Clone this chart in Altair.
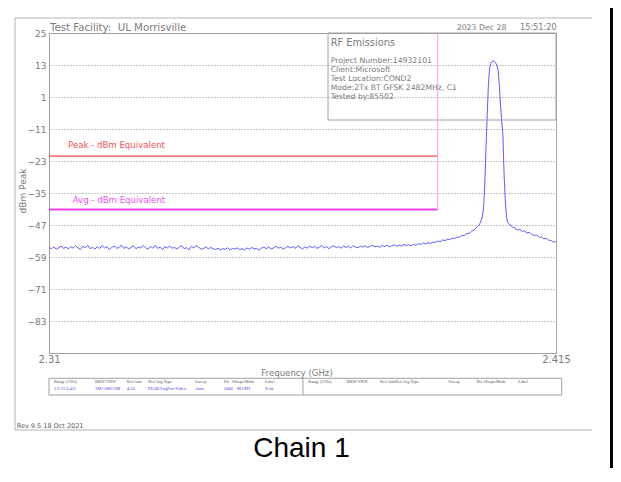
import altair as alt
import pandas as pd

# ---------------- data ----------------
floor_mhz = [
    2310.0, 2310.5, 2311.0, 2311.5, 2312.0, 2312.5, 2313.0, 2313.5, 2314.0, 2314.5,
    2315.0, 2315.5, 2316.0, 2316.5, 2317.0, 2317.5, 2318.0, 2318.5, 2319.0, 2319.5,
    2320.0, 2320.5, 2321.0, 2321.5, 2322.0, 2322.5, 2323.0, 2323.5, 2324.0, 2324.5,
    2325.0, 2325.5, 2326.0, 2326.5, 2327.0, 2327.5, 2328.0, 2328.5, 2329.0, 2329.5,
    2330.0, 2330.5, 2331.0, 2331.5, 2332.0, 2332.5, 2333.0, 2333.5, 2334.0, 2334.5,
    2335.0, 2335.5, 2336.0, 2336.5, 2337.0, 2337.5, 2338.0, 2338.5, 2339.0, 2339.5,
    2340.0, 2340.5, 2341.0, 2341.5, 2342.0, 2342.5, 2343.0, 2343.5, 2344.0, 2344.5,
    2345.0, 2345.5, 2346.0, 2346.5, 2347.0, 2347.5, 2348.0, 2348.5, 2349.0, 2349.5,
    2350.0, 2350.5, 2351.0, 2351.5, 2352.0, 2352.5, 2353.0, 2353.5, 2354.0, 2354.5,
    2355.0, 2355.5, 2356.0, 2356.5, 2357.0, 2357.5, 2358.0, 2358.5, 2359.0, 2359.5,
    2360.0, 2360.5, 2361.0, 2361.5, 2362.0, 2362.5, 2363.0, 2363.5, 2364.0, 2364.5,
    2365.0, 2365.5, 2366.0, 2366.5, 2367.0, 2367.5, 2368.0, 2368.5, 2369.0, 2369.5,
    2370.0, 2370.5, 2371.0, 2371.5, 2372.0, 2372.5, 2373.0, 2373.5, 2374.0, 2374.5,
    2375.0, 2375.5, 2376.0, 2376.5, 2377.0, 2377.5, 2378.0, 2378.5, 2379.0, 2379.5,
    2380.0, 2380.5, 2381.0, 2381.5, 2382.0, 2382.5, 2383.0, 2383.5, 2384.0, 2384.5,
    2385.0, 2385.5, 2386.0, 2386.5, 2387.0, 2387.5, 2388.0, 2388.5, 2389.0, 2389.5,
    2390.0, 2390.5, 2391.0, 2391.5, 2392.0, 2392.5, 2393.0, 2393.5, 2394.0, 2394.5,
    2395.0, 2395.5, 2396.0, 2396.5, 2397.0, 2397.5, 2398.0, 2398.5, 2399.0,
]
floor_dbm = [
    -55.4, -55.9, -55.2, -56.1, -55.5, -54.9, -55.8, -55.3, -56.0, -55.1,
    -55.7, -54.8, -55.6, -56.2, -55.0, -55.5, -54.6, -55.9, -55.3, -56.0,
    -55.2, -55.8, -54.7, -55.6, -55.1, -56.3, -55.4, -54.9, -55.7, -55.5,
    -54.5, -55.8, -55.2, -56.0, -55.4, -54.8, -55.9, -55.3, -55.6, -54.7,
    -55.5, -56.1, -55.0, -55.7, -54.6, -55.8, -55.3, -56.2, -55.1, -55.6,
    -54.9, -55.7, -55.4, -56.0, -55.2, -54.8, -55.9, -55.5, -56.3, -55.0,
    -55.6, -54.7, -55.3, -56.1, -55.8, -55.2, -56.0, -55.4, -55.9, -56.2,
    -55.7, -56.3, -55.9, -56.1, -55.5, -56.4, -55.8, -56.0, -55.6, -56.2,
    -55.9, -56.3, -55.6, -56.1, -55.4, -56.0, -55.8, -56.4, -55.7, -55.3,
    -55.9, -55.2, -56.0, -55.6, -54.9, -55.7, -55.3, -56.1, -55.5, -55.0,
    -55.6, -55.1, -55.8, -54.8, -55.4, -56.0, -55.2, -55.7, -54.9, -55.5,
    -55.0, -55.8, -55.3, -54.7, -55.6, -55.1, -55.9, -55.2, -54.8, -55.5,
    -55.1, -55.7, -54.9, -55.4, -55.0, -55.6, -54.7, -55.3, -55.5, -54.9,
    -55.3, -54.8, -55.5, -55.0, -54.6, -55.2, -54.9, -55.4, -54.7, -55.1,
    -54.6, -55.2, -54.8, -54.4, -55.0, -54.5, -54.9, -54.3, -54.7, -54.4,
    -54.8, -54.2, -54.6, -54.0, -54.3, -53.7, -54.1, -53.6, -53.9, -53.4,
    -53.5, -53.0, -53.3, -52.6, -52.9, -52.3, -52.5, -51.9, -52.1, -51.5,
    -51.6, -50.9, -51.0, -50.3, -50.2, -49.4, -48.9, -48.0, -47.2,
]
peak_mhz = [
    2399.25, 2399.5, 2399.75, 2400.0, 2400.25, 2400.5, 2400.75, 2401.0,
    2401.25, 2401.5, 2401.75, 2402.0, 2402.25, 2402.5, 2402.75, 2403.0,
    2403.25, 2403.5, 2403.75, 2404.0, 2404.25, 2404.5, 2404.75, 2405.0,
]
peak_dbm = [
    -46.4, -45.3, -44.0, -40.5, -32.0, -18.0, -6.0, 5.5,
    11.8, 13.6, 14.3, 14.5, 14.3, 13.8, 12.9, 11.2,
    6.0, -2.0, -8.0, -13.0, -28.0, -38.0, -44.0, -46.0,
]
tail_mhz = [
    2405.5, 2406.0, 2406.5, 2407.0, 2407.5, 2408.0, 2408.5, 2409.0, 2409.5, 2410.0,
    2410.5, 2411.0, 2411.5, 2412.0, 2412.5, 2413.0, 2413.5, 2414.0, 2414.5, 2415.0,
]
tail_dbm = [
    -47.0, -47.8, -48.1, -48.9, -48.6, -49.4, -49.2, -50.0, -49.7, -50.6,
    -50.9, -50.7, -51.6, -51.5, -52.2, -52.0, -52.7, -52.8, -53.4, -53.2,
]

y_ticks = [25, 13, 1, -11, -23, -35, -47, -59, -71, -83]
y_domain = [-95, 25]
x_ticks = [2.31, 2.415]
x_domain = [2.31, 2.415]

peak_limit_dbm = -21.2
avg_limit_dbm = -41.2
limit_start_ghz = 2.31
limit_end_ghz = 2.3905

title_left = "Test Facility:\u00a0 UL Morrisville"
title_date = "2023 Dec 28"
title_time = "15:51:20"
info_title = "RF Emissions"
info_lines = [
    "Project Number:14932101",
    "Client:Microsoft",
    "Test Location:COND2",
    "Mode:2Tx BT GFSK 2482MHz, C1",
    "Tested by:85502",
]
peak_label = "Peak - dBm Equivalent"
avg_label = "Avg - dBm Equivalent"
y_title = "dBm Peak"
x_title = "Frequency (GHz)"
table_headers = ["Range (GHz)", "RBW/VBW", "Ref/Attn", "Det/Avg Type", "Sweep", "Pts", "#Swps/Mode", "Label"]
table_values = ["1:2.31-2.415", "1M/-3dB1/3M", "4/14", "PEAK/LogPwr-Video", "Auto", "2000", "MAXH", "Peak"]
rev_text = "Rev 9.5 18 Oct 2021"
caption = "Chain 1"

# ---------------- build ----------------
W, H = 507, 320
FONT = "DejaVu Sans"
GRAY_TXT = "#7a7a7a"

trace = pd.DataFrame({
    "ghz": [m / 1000 for m in floor_mhz + peak_mhz + tail_mhz],
    "dbm": floor_dbm + peak_dbm + tail_dbm,
})
limits = pd.DataFrame({
    "ghz": [limit_start_ghz, limit_start_ghz],
    "ghz2": [limit_end_ghz, limit_end_ghz],
    "dbm": [peak_limit_dbm, avg_limit_dbm],
    "kind": ["peak", "avg"],
})
edge = pd.DataFrame({"ghz": [limit_end_ghz], "dbm": [avg_limit_dbm], "dbm2": [y_domain[1]]})
one = pd.DataFrame({"k": [0]})

x_enc = alt.X("ghz:Q", scale=alt.Scale(domain=x_domain, nice=False, zero=False),
              axis=alt.Axis(values=x_ticks, format=".4~g", grid=False, ticks=False, title=None,
                            labelPadding=1, labelFontSize=10, labelColor=GRAY_TXT, labelFont=FONT,
                            labelFlush=False, labelOverlap=False, domainColor="#a0a0a0"))
y_enc = alt.Y("dbm:Q", scale=alt.Scale(domain=y_domain, nice=False, zero=False),
              axis=alt.Axis(values=y_ticks, grid=True, gridDash=[1, 2], gridColor="#8a8a8a",
                            gridWidth=1, ticks=False, title=None, labelPadding=3, labelFontSize=9,
                            labelColor=GRAY_TXT, labelFont=FONT, labelOverlap=False,
                            domainColor="#a0a0a0"))


def txt(s, x, y, size, color=GRAY_TXT, align="left", baseline="middle", font=FONT, angle=0):
    kw = dict(text=s, fontSize=size, color=color, align=align, baseline=baseline, font=font)
    if angle:
        kw["angle"] = angle
    return alt.Chart(one).mark_text(**kw).encode(x=alt.value(x), y=alt.value(y))


def hline(x1, x2, y, color, width=1):
    return alt.Chart(one).mark_rule(color=color, strokeWidth=width).encode(
        x=alt.value(x1), x2=alt.value(x2), y=alt.value(y))


def vline(x, y1, y2, color, width=1):
    return alt.Chart(one).mark_rule(color=color, strokeWidth=width).encode(
        x=alt.value(x), y=alt.value(y1), y2=alt.value(y2))


def box(x1, x2, y1, y2, color, width=1):
    return alt.Chart(one).mark_rect(fillOpacity=0, stroke=color, strokeWidth=width).encode(
        x=alt.value(x1), x2=alt.value(x2), y=alt.value(y1), y2=alt.value(y2))


layers = []
# document frame
FR = "#b4b4b4"
layers += [vline(-34, -15, 397, FR), hline(-34, 543, -15, FR), hline(-34, 543, 397, FR)]
layers.append(alt.Chart(one).mark_rect(color="#000000").encode(
    x=alt.value(561), x2=alt.value(564), y=alt.value(-40), y2=alt.value(460)))

# trace (carries the axes)
layers.append(alt.Chart(trace).mark_line(color="#5c5cff", strokeWidth=1).encode(x=x_enc, y=y_enc))

# info box
layers.append(box(279, 507, 0, 87, "#a0a0a0"))

# limit lines
layers.append(alt.Chart(limits[limits.kind == "peak"]).mark_rule(color="#ff4a4a", strokeWidth=1.3).encode(
    x=x_enc, x2="ghz2", y=y_enc))
layers.append(alt.Chart(limits[limits.kind == "avg"]).mark_rule(color="#f040f0", strokeWidth=2).encode(
    x=x_enc, x2="ghz2", y=y_enc))
layers.append(alt.Chart(edge).mark_rule(color="#ff9cff", strokeWidth=1).encode(
    x=x_enc, y=y_enc, y2="dbm2"))

# texts
layers.append(txt(title_left, 1, -5.5, 10.2))
layers.append(txt(title_date, 407.7, -5.5, 7.8))
layers.append(txt(title_time, 507.7, -5.5, 8.2, align="right"))
layers.append(txt(info_title, 281.7, 10.3, 9.8))
for i, line in enumerate(info_lines):
    layers.append(txt(line, 281.7, 28 + 9 * i, 7.7))
layers.append(txt(peak_label, 19, 111.7, 8.6, color="#ff5050"))
layers.append(txt(avg_label, 23.7, 167.3, 8.6, color="#f050f0"))
layers.append(txt(y_title, -26.3, 158, 9, align="center", angle=270))
layers.append(txt(x_title, 248, 339.5, 8.6, align="center"))

# bottom settings table
layers.append(box(0, 512.7, 345.3, 362, "#a0a0a0"))
layers.append(vline(254, 345.3, 362, "#a0a0a0"))
left_cols = [5, 46, 77.7, 99, 146, 175, 183, 216]
val_cols = [5, 46, 77.7, 99, 146, 175, 188, 216]
right_cols = [259.3, 297.7, 331, 346, 399.3, 427.7, 434.3, 469.3]
for h, cx in zip(table_headers, left_cols):
    layers.append(txt(h, cx, 348.7, 4.3, color="#555555", font="Liberation Sans Narrow"))
for v, cx in zip(table_values, val_cols):
    layers.append(txt(v, cx, 356, 4.3, color="#3c3cdc", font="Liberation Sans Narrow"))
for h, cx in zip(table_headers, right_cols):
    layers.append(txt(h, cx, 348.7, 4.3, color="#555555", font="Liberation Sans Narrow"))

layers.append(txt(rev_text, -32.3, 393, 6.5, color="#555555"))
layers.append(txt(caption, 252.5, 424, 28, color="#000000", align="center", baseline="alphabetic",
                  font="Liberation Sans"))

chart = alt.layer(*layers).properties(
    width=W, height=H,
    padding={"left": 41, "top": 25, "right": 57, "bottom": 115},
    autosize=alt.AutoSizeParams(type="none"),
    background="white",
).configure_view(stroke="#a8a8a8", strokeWidth=1)

chart.save("out.html", embed_options={"renderer": "svg", "actions": False})
